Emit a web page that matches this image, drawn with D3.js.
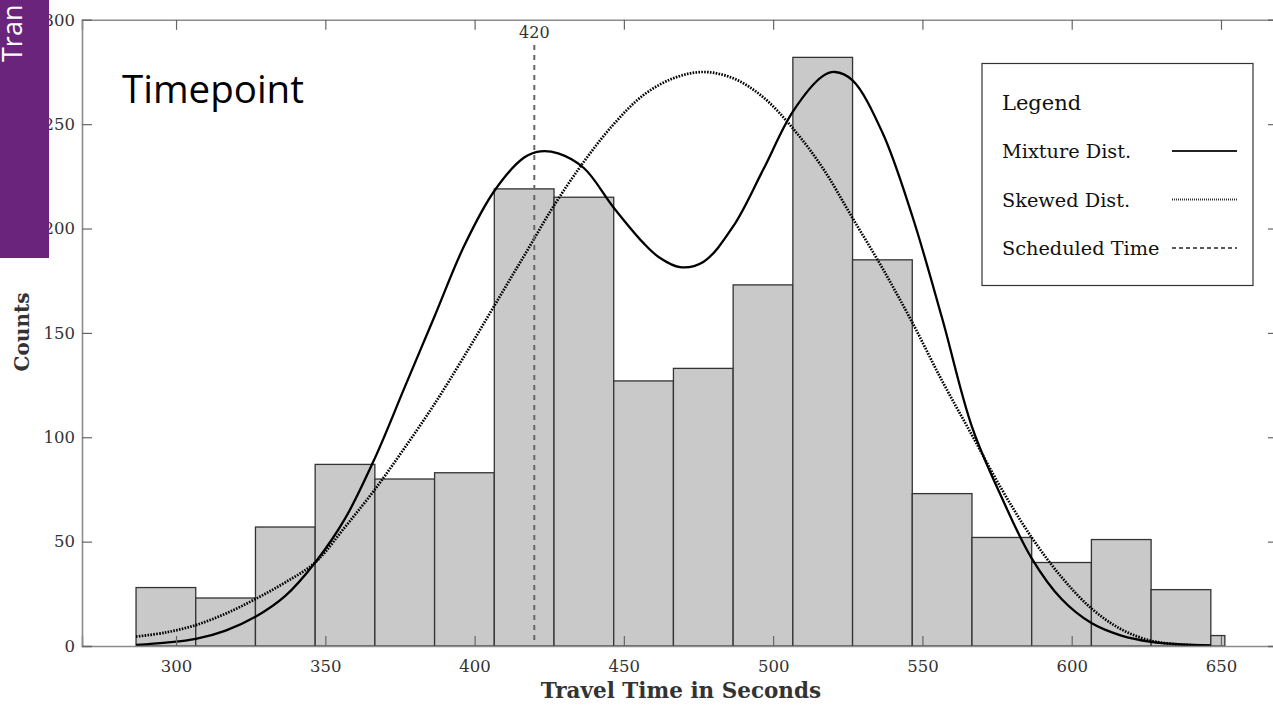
<!DOCTYPE html>
<html><head><meta charset="utf-8">
<script src="https://cdn.jsdelivr.net/npm/d3@7"></script>
<style>
html,body{margin:0;padding:0;background:#fff;overflow:hidden;}
svg{display:block;}
</style></head>
<body>
<svg id="chart" width="1273" height="705"></svg>
<script>
// ---- data ----
const binEdges = [286.6, 306.6, 326.6, 346.6, 366.6, 386.6, 406.6, 426.6, 446.6, 466.6,
                  486.6, 506.6, 526.6, 546.6, 566.6, 586.6, 606.6, 626.6, 646.6, 651.3];
const binCounts = [28, 23, 57, 87, 80, 83, 219, 215, 127, 133, 173, 282, 185, 73, 52, 40, 51, 27, 5];

const mixtureX = [286.6, 296.6, 306.6, 316.6, 326.6, 336.6, 346.6, 356.6, 366.6, 376.6, 386.6, 396.6,
                  406.6, 416.6, 422, 428, 436.6, 446.6, 456.6, 462, 468.8, 476.6, 486.6, 496.6, 506.6,
                  516.6, 520.7, 526.6, 536.6, 546.6, 556.6, 566.6, 576.6, 586.6, 596.6, 606.6, 616.6,
                  626.6, 636.6, 646.6];
const mixtureY = [0.5, 1.6, 3.4, 7.4, 14, 24, 40, 61, 90, 124, 158, 192,
                  218, 234, 237, 236, 229, 210, 193, 186, 181.5, 184, 201, 228, 256,
                  273, 275, 271, 246, 206, 157, 105, 71, 42, 22.5, 11, 5, 2,
                  0.8, 0.3];

const skewedX = [286.6, 296.6, 306.6, 316.6, 326.6, 336.6, 346.6, 356.6, 366.6, 376.6, 386.6, 396.6,
                 406.6, 416.6, 426.6, 436.6, 446.6, 456.6, 466.6, 476.5, 486.6, 496.6, 506.6, 516.6,
                 526.6, 536.6, 546.6, 556.6, 566.6, 576.6, 586.6, 596.6, 606.6, 616.6, 626.6, 636.6, 646.6];
const skewedY = [4.5, 6.5, 10, 15.5, 22.5, 30.5, 40, 57, 75, 95, 116, 139,
                 163, 187, 211, 232, 250, 264, 272, 275, 272, 263, 248, 229,
                 205, 181, 155, 127, 101, 75, 52, 33, 18, 8, 2.5, 0.7, 0.1];

const scheduledTime = 420;
const xTicks = [300, 350, 400, 450, 500, 550, 600, 650];
const yTicks = [0, 50, 100, 150, 200, 250, 300];
const legendItems = ["Mixture Dist.", "Skewed Dist.", "Scheduled Time"];
const titleText = "Timepoint";
const xTitle = "Travel Time in Seconds";
const yTitle = "Counts";
const sideText = "Tran";

// ---- layout ----
const svg = d3.select("#chart");
const L = 82, R = 1278, T = 19.8, B = 646;
const x = d3.scaleLinear().domain([268.5, 669.1]).range([L, R]);
const y = d3.scaleLinear().domain([0, 300]).range([B, T]);
const serif = "'DejaVu Serif', serif";

// bars
const bins = binCounts.map((c, i) => ({x0: binEdges[i], x1: binEdges[i + 1], c}));
svg.append("g").selectAll("rect").data(bins).join("rect")
  .attr("x", d => x(d.x0)).attr("width", d => x(d.x1) - x(d.x0))
  .attr("y", d => y(d.c)).attr("height", d => y(0) - y(d.c))
  .attr("fill", "#c9c9c9").attr("stroke", "#333").attr("stroke-width", 1.3);

// curves
const line = d3.line().x(d => x(d[0])).y(d => y(d[1])).curve(d3.curveCatmullRom.alpha(0.5));
svg.append("path").datum(skewedX.map((v, i) => [v, skewedY[i]]))
  .attr("d", line).attr("fill", "none").attr("stroke", "#000")
  .attr("stroke-width", 2.7).attr("stroke-dasharray", "1.6,1.3");
svg.append("path").datum(mixtureX.map((v, i) => [v, mixtureY[i]]))
  .attr("d", line).attr("fill", "none").attr("stroke", "#000").attr("stroke-width", 2.3);

// scheduled time
svg.append("line").attr("x1", x(scheduledTime)).attr("x2", x(scheduledTime))
  .attr("y1", 45).attr("y2", B).attr("stroke", "#666").attr("stroke-width", 2)
  .attr("stroke-dasharray", "5,5");
svg.append("text").attr("x", x(scheduledTime)).attr("y", 38).attr("text-anchor", "middle")
  .attr("font-family", serif).attr("font-size", 16).attr("fill", "#333").text(scheduledTime);

// axes frame
const axisCol = "#8c8c8c";
const gBottom = svg.append("g").attr("transform", `translate(0,${B})`)
  .call(d3.axisBottom(x).tickValues(xTicks).tickSize(-10).tickPadding(14));
const gTop = svg.append("g").attr("transform", `translate(0,${T})`)
  .call(d3.axisTop(x).tickValues(xTicks).tickSize(-10).tickFormat(""));
const gLeft = svg.append("g").attr("transform", `translate(${L},0)`)
  .call(d3.axisLeft(y).tickValues(yTicks).tickSize(-10).tickPadding(7));
const gRight = svg.append("g").attr("transform", `translate(${R},0)`)
  .call(d3.axisRight(y).tickValues(yTicks).tickSize(-10).tickFormat(""));
[gBottom, gTop, gLeft, gRight].forEach(g => {
  g.select(".domain").attr("stroke", axisCol).attr("stroke-width", 1.6);
  g.selectAll(".tick line").attr("stroke", "#666").attr("stroke-width", 1.2);
  g.selectAll(".tick text").attr("font-family", serif).attr("font-size", 16.5).attr("fill", "#333");
});

// axis titles
svg.append("text").attr("x", 681).attr("y", 698).attr("text-anchor", "middle")
  .attr("font-family", serif).attr("font-weight", "bold").attr("font-size", 21.5).attr("fill", "#333")
  .text(xTitle);
svg.append("text").attr("transform", "translate(29,332) rotate(-90)").attr("text-anchor", "middle")
  .attr("font-family", serif).attr("font-weight", "bold").attr("font-size", 20).attr("fill", "#333")
  .text(yTitle);

// chart title
svg.append("text").attr("x", 122).attr("y", 103).attr("font-family", "'Open Sans', sans-serif")
  .attr("font-size", 38.5).attr("fill", "#000").text(titleText);

// legend
const lg = svg.append("g");
lg.append("rect").attr("x", 982).attr("y", 63.5).attr("width", 271).attr("height", 222)
  .attr("fill", "#fff").attr("stroke", "#333").attr("stroke-width", 1.2);
lg.append("text").attr("x", 1002).attr("y", 110).attr("font-family", serif).attr("font-size", 21)
  .attr("fill", "#111").text("Legend");
const styles = [
  {dash: null, w: 2, col: "#222"},
  {dash: "1,1", w: 1.8, col: "#333"},
  {dash: "4,3", w: 1.3, col: "#222"}
];
legendItems.forEach((t, i) => {
  const yy = 158 + i * 48.5;
  lg.append("text").attr("x", 1002).attr("y", yy).attr("font-family", serif).attr("font-size", 19.3)
    .attr("fill", "#111").text(t);
  const ln = lg.append("line").attr("x1", 1172).attr("x2", 1237).attr("y1", yy - 7).attr("y2", yy - 7)
    .attr("stroke", styles[i].col).attr("stroke-width", styles[i].w);
  if (styles[i].dash) ln.attr("stroke-dasharray", styles[i].dash);
});

// purple side band
svg.append("rect").attr("x", 0).attr("y", 0).attr("width", 49).attr("height", 258).attr("fill", "#6b247b");
svg.append("text").attr("transform", "translate(22,62) rotate(-90)")
  .attr("font-family", "'Open Sans', sans-serif").attr("font-size", 27).attr("fill", "#fff").text(sideText);
</script>
</body></html>
